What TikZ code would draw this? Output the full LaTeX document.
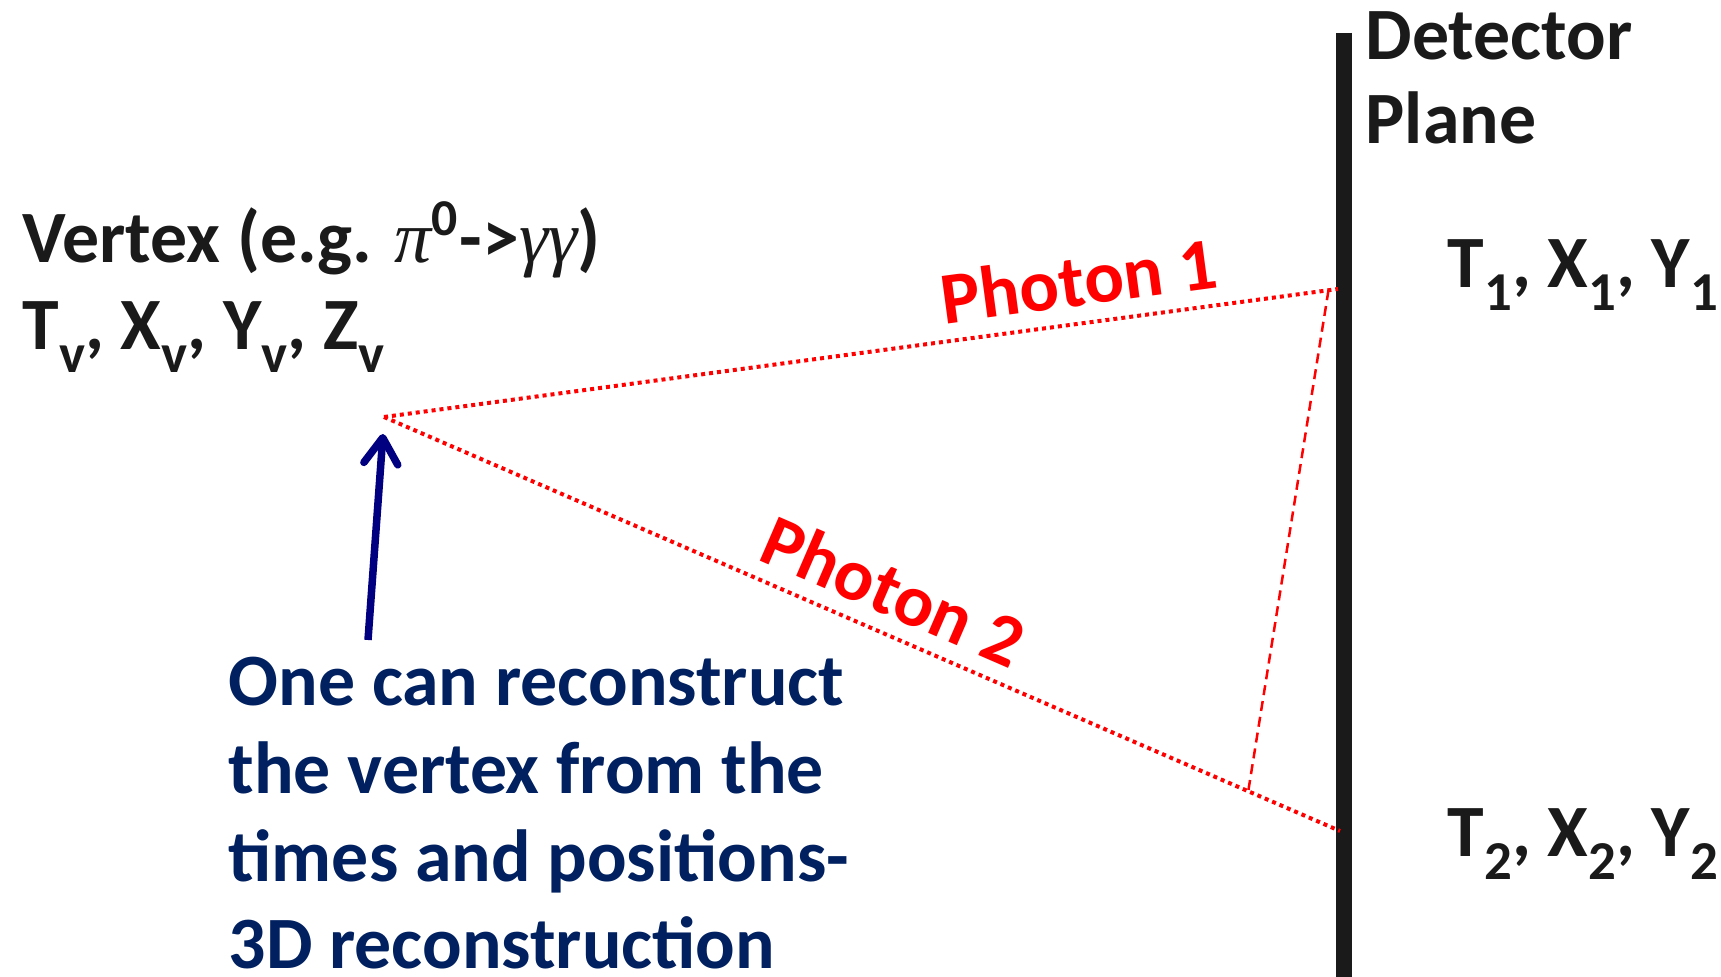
\documentclass[tikz,border=0pt]{standalone}
\usepackage{fontspec}
\setmainfont{Carlito}
\newfontfamily\greekfont{Liberation Serif}
\usepackage{xcolor}
\usepackage{tikz}
\usetikzlibrary{arrows.meta,calc}
\definecolor{inkgray}{RGB}{26,26,26}
\definecolor{noteblue}{RGB}{0,32,96}
\definecolor{pointernavy}{RGB}{0,0,128}
\newcommand{\lowidx}[1]{\raisebox{-0.3em}{\fontsize{15.6pt}{15.6pt}\selectfont #1}}
\newcommand{\grk}[1]{{\greekfont\itshape\mdseries #1}}
\tikzset{
bigtext/.style={
font=\fontsize{21pt}{25pt}\selectfont\bfseries,
text=inkgray,
inner sep=0pt,
align=left
},
notetext/.style={
bigtext,
text=noteblue
},
photonlabel/.style={
font=\fontsize{21pt}{25pt}\selectfont\bfseries,
text=red,
inner sep=0pt,
sloped
},
photon/.style={
red,
line width=0.04cm,
dash pattern=on 0.04cm off 0.04cm
},
helper/.style={
red,
line width=0.025cm,
dash pattern=on 0.1cm off 0.06cm
},
pointer/.style={
-{Straight Barb[length=0.26cm,width=0.34cm,round]},
pointernavy,
line width=0.075cm
}
}
\begin{document}
\begin{tikzpicture}
\useasboundingbox (0,0) rectangle (17.21,9.77);

% detector plane
\coordinate (plane top) at (13.44,9.44);
\coordinate (plane bottom) at (13.44,0);
\draw[line width=0.16cm,inkgray] (plane top) -- (plane bottom);

% vertex and hits
\coordinate (vertex) at (3.84,5.60);
\coordinate (hit1) at (13.38,6.88);
\coordinate (hit2) at (13.40,1.46);
\coordinate (foot) at ($(vertex)!0.904!(hit2)$);

\draw[photon] (vertex) -- (hit1) node[photonlabel,pos=0.734,above=0.15cm]{Photon 1};
\draw[photon] (vertex) -- (hit2) node[photonlabel,pos=0.515,above=0.15cm]{Photon 2};
\draw[helper] ($(vertex)!0.99!(hit1)$) -- (foot);

% texts (base = last line)
\node[bigtext,anchor=base west] (vtx) at (0.22,6.27)
{Vertex (e.g. \grk{π}\textsuperscript{0}->\grk{γγ})\\
T\lowidx{v}, X\lowidx{v}, Y\lowidx{v}, Z\lowidx{v}};
\node[bigtext,anchor=base west,font=\fontsize{21pt}{24pt}\selectfont\bfseries] (det) at (13.65,8.33)
{Detector\\Plane};
\node[bigtext,anchor=base west] (t1) at (14.47,6.89) {T\lowidx{1}, X\lowidx{1}, Y\lowidx{1}};
\node[bigtext,anchor=base west] (t2) at (14.47,1.20) {T\lowidx{2}, X\lowidx{2}, Y\lowidx{2}};
\node[notetext,anchor=base west] (note) at (2.28,0.08)
{One can reconstruct\\the vertex from the\\times and positions-\\3D reconstruction};

% pointer to the vertex
\coordinate (tail) at (3.68,3.37);
\draw[pointer] (tail) -- ($(vertex)+(-0.01,-0.17)$);
\end{tikzpicture}
\end{document}
